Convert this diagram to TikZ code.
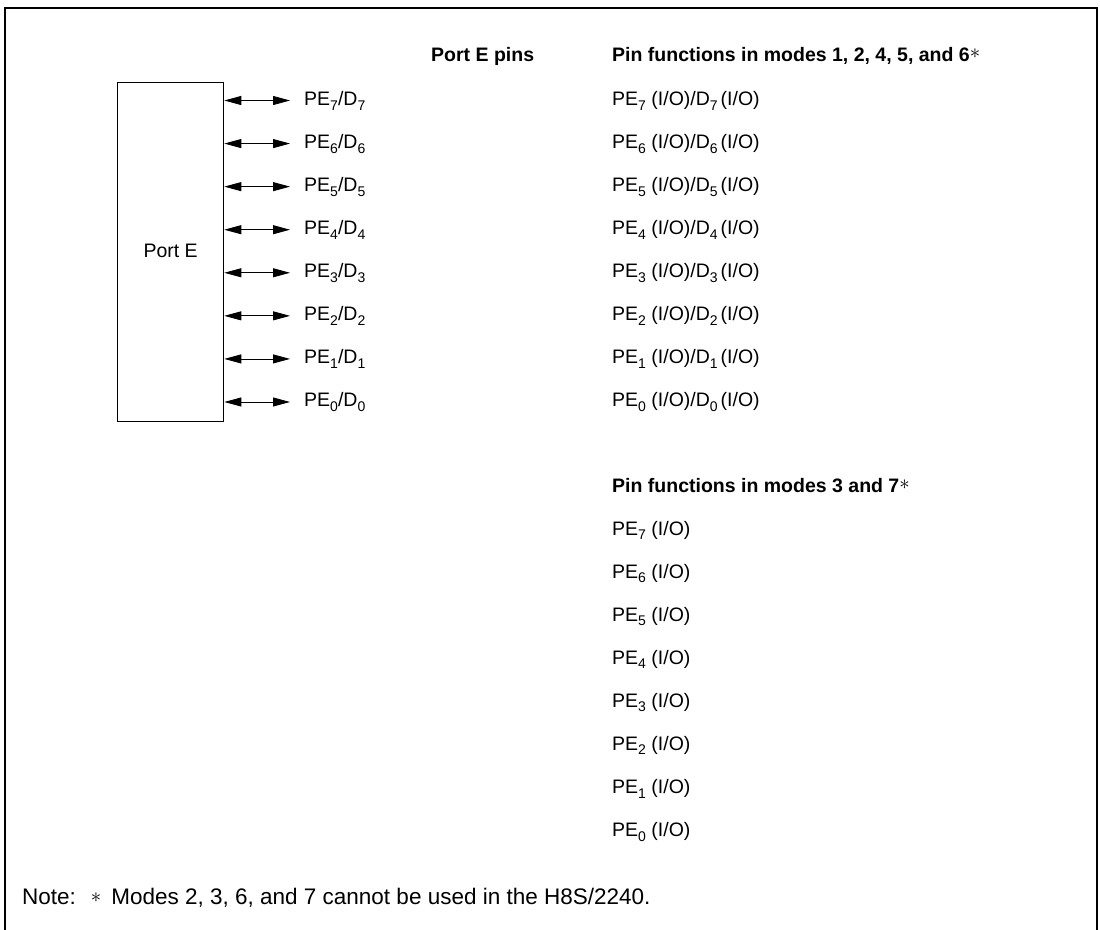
\documentclass[tikz,border=0pt]{standalone}
\usepackage{fontspec}
\setmainfont{Liberation Sans}
\usetikzlibrary{arrows.meta}
\newcommand{\sbs}[1]{\raisebox{-0.45ex}{\fontsize{14}{14}\selectfont #1}}
\newcommand{\astk}{\raisebox{0.25ex}{\normalfont$\ast$}}
\begin{document}
\begin{tikzpicture}[x=1pt,y=-1pt,
  every node/.style={font=\fontsize{19.5}{23}\selectfont, inner sep=0pt, text height=14pt, text depth=4pt},
  lbl/.style={anchor=west},
  hdr/.style={anchor=west, font=\fontsize{19.5}{23}\selectfont\bfseries},
  notest/.style={anchor=west, font=\fontsize{22.5}{26}\selectfont},
  frame/.style={line width=1.7pt},
  boxst/.style={draw, line width=1.3pt},
  pinarrow/.style={line width=0.8pt, {Triangle[length=17pt,width=9pt]}-{Triangle[length=17pt,width=9pt]}}
]
\useasboundingbox (0,0) rectangle (1100,929);
% outer frame (open at the bottom)
\draw[frame] (5,935) -- (5,8) -- (1097,8) -- (1097,935);

% Port E block
\node[boxst, minimum width=106pt, minimum height=339pt, anchor=north west, text height=, text depth=] (port) at (117,82) {};
\node (portlbl) at (port.center) {Port E};

% headers
\node[hdr] (h1) at (431,56) {Port E pins};
\node[hdr] (h2) at (612,56) {Pin functions in modes 1, 2, 4, 5, and 6\astk};
\node[hdr] (h3) at (612,487) {Pin functions in modes 3 and 7\astk};

% pins and arrows
\foreach \i [count=\k from 0] in {7,6,5,4,3,2,1,0}{
  \pgfmathsetmacro{\yy}{100.5+43.07*\k}
  \node[lbl] (p\i) at (304,\yy) {PE\sbs{\i}/D\sbs{\i}};
  \coordinate (e\i) at ([xshift=-14pt]p\i.west);
  \draw[pinarrow] (port.east |- e\i) -- (e\i);
  \node[lbl] (f\i) at (612,\yy) {PE\sbs{\i}\ (I/O)/D\sbs{\i}\hspace{3pt}(I/O)};
  \pgfmathsetmacro{\zz}{530+43.07*\k}
  \node[lbl] (g\i) at (612,\zz) {PE\sbs{\i}\ (I/O)};
}

% note
\node[notest] (note) at (22,899) {Note:\hspace{15pt}\raisebox{0.1ex}{$\ast$}\hspace{10pt}Modes 2, 3, 6, and 7 cannot be used in the H8S/2240.};
\end{tikzpicture}
\end{document}
